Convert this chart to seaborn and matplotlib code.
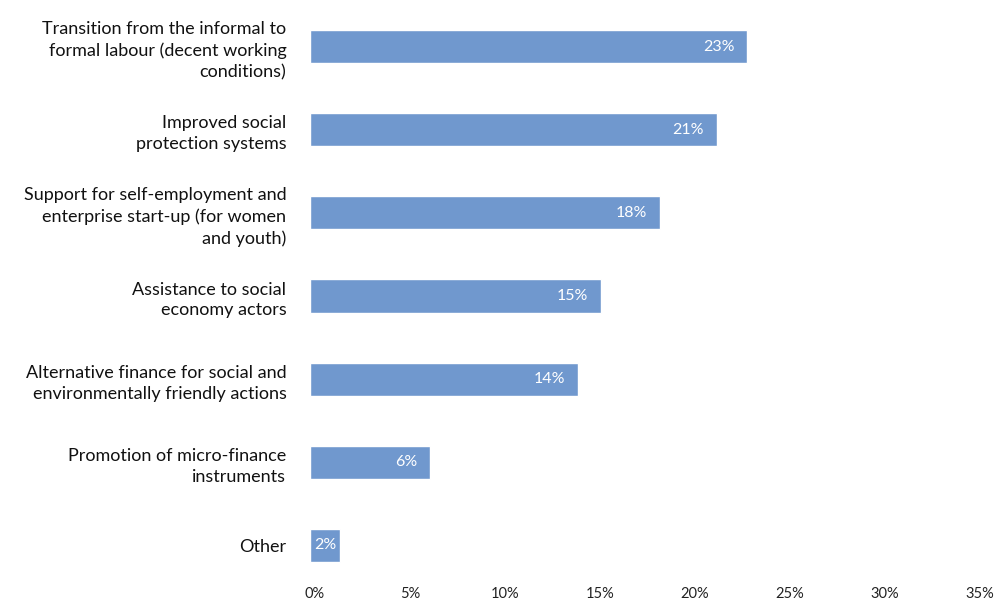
import matplotlib
matplotlib.use("Agg")
import matplotlib.pyplot as plt
import matplotlib.transforms as mtransforms
import seaborn as sns
import pandas as pd

categories = [
    "Transition from the informal to\nformal labour (decent working\nconditions)",
    "Improved social\nprotection systems",
    "Support for self-employment and\nenterprise start-up (for women\nand youth)",
    "Assistance to social\neconomy actors",
    "Alternative finance for social and\nenvironmentally friendly actions",
    "Promotion of micro-finance\ninstruments",
    "Other",
]
shares = [23.0, 21.4, 18.4, 15.3, 14.1, 6.3, 1.6]
x_ticks = [0, 5, 10, 15, 20, 25, 30, 35]
x_tick_labels = [f"{t}%" for t in x_ticks]

df = pd.DataFrame({"category": categories, "share": shares})

sns.set_theme(style="white")
plt.rcParams["font.family"] = ["Lato", "DejaVu Sans"]

W, H = 997, 604
fig = plt.figure(figsize=(W / 100, H / 100), dpi=100)
ax = fig.add_axes([310 / W, 17 / H, (975 - 310) / W, (599 - 17) / H])

bar_color = "#7098CE"
sns.barplot(data=df, x="share", y="category", orient="h", color=bar_color,
            width=0.4, saturation=1, ax=ax)

ax.set_xlim(0, 35)
ax.set_ylim(6.5, -0.5)
ax.set_xticks(x_ticks)
ax.set_xticklabels(x_tick_labels, fontsize=10.5, color="#222222")
ax.tick_params(axis="y", labelsize=13, pad=17, length=0, colors="#111111")
ax.tick_params(axis="x", length=0, pad=0)
for lbl in ax.get_yticklabels():
    lbl.set_multialignment("right")
    lbl.set_linespacing(1.38)
shift = mtransforms.ScaledTranslation(5 / 100, 0, fig.dpi_scale_trans)
for lbl in ax.get_xticklabels():
    lbl.set_transform(lbl.get_transform() + shift)

ax.set_xlabel("")
ax.set_ylabel("")
for s in ax.spines.values():
    s.set_visible(False)
ax.grid(False)

# value labels inside the end of each bar
for i, v in enumerate(shares):
    text = f"{v:.0f}%"
    if v < 3:
        ax.text(v / 2, i, text, ha="center", va="center", color="white", fontsize=11.5)
    else:
        ax.annotate(text, xy=(v, i), xytext=(-9, 0), textcoords="offset points",
                    ha="right", va="center", color="white", fontsize=11.5)

fig.savefig("out.png", dpi=100)
